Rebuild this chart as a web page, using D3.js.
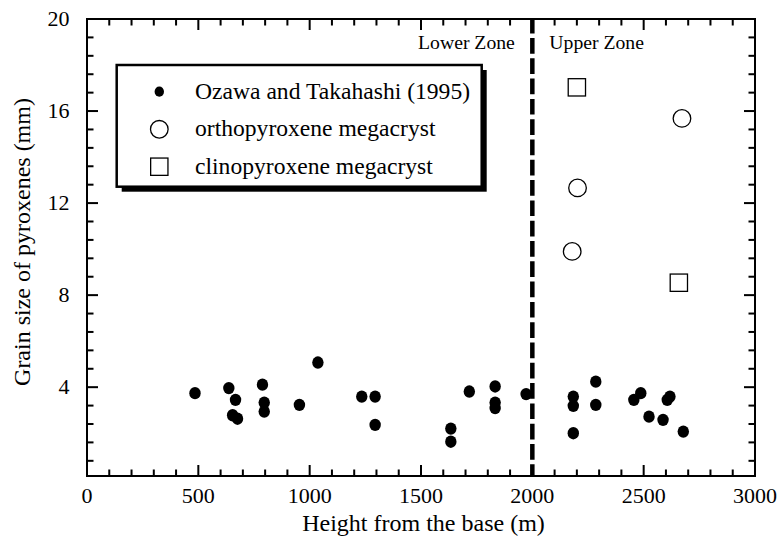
<!DOCTYPE html>
<html>
<head>
<meta charset="utf-8">
<script src="https://cdn.jsdelivr.net/npm/d3@7/dist/d3.min.js"></script>
<style>
  html, body { margin: 0; padding: 0; background: #fff; }
  svg { display: block; }
  text { font-family: "Liberation Serif", "Times New Roman", serif; fill: #000; }
</style>
</head>
<body>
<script>
// Ozawa and Takahashi (1995): height above base (m) and grain size (mm)
const ozawaHeight = [485, 637, 667, 654, 676, 788, 796, 796, 954, 1037, 1234, 1294, 1294,
                     1634, 1634, 1717, 1833, 1833, 1833, 1972, 2184, 2184, 2184,
                     2285, 2285, 2456, 2487, 2524, 2587, 2606, 2618, 2678];
const ozawaSize   = [3.74, 3.96, 3.45, 2.78, 2.63, 4.11, 3.33, 2.94, 3.23, 5.07, 3.59, 3.59, 2.36,
                     2.20, 1.63, 3.81, 4.03, 3.33, 3.09, 3.70, 3.59, 3.19, 2.00,
                     4.24, 3.23, 3.45, 3.74, 2.72, 2.58, 3.45, 3.59, 2.07];
// Orthopyroxene megacrysts
const opxHeight = [2179, 2203, 2672];
const opxSize   = [9.9, 12.66, 15.68];
// Clinopyroxene megacrysts
const cpxHeight = [2200, 2658];
const cpxSize   = [17.03, 8.54];

const xMajorTicks = [0, 500, 1000, 1500, 2000, 2500, 3000];
const yMajorTicks = [4, 8, 12, 16, 20];
const zoneBoundary = 2000;
const zoneLabels = ["Lower Zone", "Upper Zone"];
const legendLabels = ["Ozawa and Takahashi (1995)", "orthopyroxene megacryst", "clinopyroxene megacryst"];
const xTitle = "Height from the base (m)";
const yTitle = "Grain size of pyroxenes (mm)";

(function () {
const W = 780, H = 545;
const mLeft = 87, mRight = 755, mTop = 19, mBottom = 476;

const svg = d3.select("body").append("svg").attr("width", W).attr("height", H);

const x = d3.scaleLinear().domain([0, 3000]).range([mLeft, mRight]);
const y = d3.scaleLinear().domain([0.14, 20]).range([mBottom, mTop]);

const xMinor = d3.range(100, 3000, 100).filter(v => v % 500 !== 0);
const yMinor = d3.range(1, 26).map(i => +(i * 0.8).toFixed(1))
  .filter(v => v < 20 && Math.abs(v / 4 - Math.round(v / 4)) > 1e-6);

// plot frame
svg.append("rect")
  .attr("x", mLeft).attr("y", mTop).attr("width", mRight - mLeft).attr("height", mBottom - mTop)
  .attr("fill", "none").attr("stroke", "#000").attr("stroke-width", 2)
  .attr("shape-rendering", "crispEdges");

// inward tick marks on all four sides, drawn as thin filled bars
const xTicks = xMajorTicks.map(v => ({ v, len: 11 })).concat(xMinor.map(v => ({ v, len: 6.5 })));
const yTicks = yMajorTicks.map(v => ({ v, len: 11 })).concat(yMinor.map(v => ({ v, len: 6.5 })));
const tw = 2;
const tg = svg.append("g").attr("fill", "#000");
tg.selectAll("rect.xb").data(xTicks).join("rect").attr("class", "xb")
  .attr("x", d => x(d.v) - tw / 2).attr("y", d => mBottom - d.len)
  .attr("width", tw).attr("height", d => d.len);
tg.selectAll("rect.xt").data(xTicks).join("rect").attr("class", "xt")
  .attr("x", d => x(d.v) - tw / 2).attr("y", mTop)
  .attr("width", tw).attr("height", d => d.len);
tg.selectAll("rect.yl").data(yTicks).join("rect").attr("class", "yl")
  .attr("x", mLeft).attr("y", d => y(d.v) - tw / 2)
  .attr("width", d => d.len).attr("height", tw);
tg.selectAll("rect.yr").data(yTicks).join("rect").attr("class", "yr")
  .attr("x", d => mRight - d.len).attr("y", d => y(d.v) - tw / 2)
  .attr("width", d => d.len).attr("height", tw);

// tick labels
svg.append("g").selectAll("text").data(xMajorTicks).join("text")
  .attr("x", d => x(d)).attr("y", 502.7)
  .attr("text-anchor", "middle").attr("font-size", 22).text(d3.format("d"));
svg.append("g").selectAll("text").data(yMajorTicks).join("text")
  .attr("x", mLeft - 17.4).attr("y", d => y(d)).attr("dy", "0.33em")
  .attr("text-anchor", "end").attr("font-size", 22).text(d3.format("d"));

// zone boundary
svg.append("line")
  .attr("x1", x(zoneBoundary)).attr("x2", x(zoneBoundary))
  .attr("y1", mTop).attr("y2", mBottom)
  .attr("stroke", "#000").attr("stroke-width", 4.5)
  .attr("stroke-dasharray", "15.7,4.6").attr("stroke-dashoffset", 1.3);

svg.append("text").attr("x", x(zoneBoundary) - 17.5).attr("y", 49.3)
  .attr("text-anchor", "end").attr("font-size", 19.7).text(zoneLabels[0]);
svg.append("text").attr("x", x(zoneBoundary) + 17).attr("y", 48.8)
  .attr("text-anchor", "start").attr("font-size", 19.7).text(zoneLabels[1]);

// data markers
const ozawa = ozawaHeight.map((h, i) => ({ h, s: ozawaSize[i] }));
const opx = opxHeight.map((h, i) => ({ h, s: opxSize[i] }));
const cpx = cpxHeight.map((h, i) => ({ h, s: cpxSize[i] }));

svg.append("g").selectAll("ellipse").data(ozawa).join("ellipse")
  .attr("cx", d => x(d.h)).attr("cy", d => y(d.s))
  .attr("rx", 5.7).attr("ry", 6.2).attr("fill", "#000");

svg.append("g").selectAll("circle").data(opx).join("circle")
  .attr("cx", d => x(d.h)).attr("cy", d => y(d.s)).attr("r", 8.8)
  .attr("fill", "none").attr("stroke", "#000").attr("stroke-width", 1.3);

const sq = 17.3;
svg.append("g").selectAll("rect").data(cpx).join("rect")
  .attr("x", d => x(d.h) - sq / 2).attr("y", d => y(d.s) - sq / 2)
  .attr("width", sq).attr("height", sq)
  .attr("fill", "none").attr("stroke", "#000").attr("stroke-width", 1.3);

// legend with drop shadow
const lg = svg.append("g");
const bx = 116.7, by = 65, bw = 365, bh = 121.7;
lg.append("rect").attr("x", bx + 5).attr("y", by + 5).attr("width", bw).attr("height", bh).attr("fill", "#000");
lg.append("rect").attr("x", bx).attr("y", by).attr("width", bw).attr("height", bh)
  .attr("fill", "#fff").attr("stroke", "#000").attr("stroke-width", 2.5);

const symX = 159.3, textX = 195;
const rowY = [91.7, 129.3, 166.7];
lg.append("ellipse").attr("cx", symX).attr("cy", rowY[0]).attr("rx", 4.7).attr("ry", 5.1).attr("fill", "#000");
lg.append("circle").attr("cx", symX).attr("cy", rowY[1]).attr("r", 8.8)
  .attr("fill", "none").attr("stroke", "#000").attr("stroke-width", 1.3);
lg.append("rect").attr("x", symX - sq / 2).attr("y", rowY[2] - sq / 2).attr("width", sq).attr("height", sq)
  .attr("fill", "none").attr("stroke", "#000").attr("stroke-width", 1.3);
lg.selectAll("text.lab").data(legendLabels).join("text").attr("class", "lab")
  .attr("x", textX).attr("y", (d, i) => rowY[i] + 7)
  .attr("font-size", 23.6).text(d => d);

// axis titles
svg.append("text").attr("x", (mLeft + mRight) / 2 + 2.5).attr("y", 531)
  .attr("text-anchor", "middle").attr("font-size", 24).text(xTitle);
svg.append("text").attr("transform", "translate(30,242) rotate(-90)")
  .attr("text-anchor", "middle").attr("font-size", 24).text(yTitle);
})();
</script>
</body>
</html>
